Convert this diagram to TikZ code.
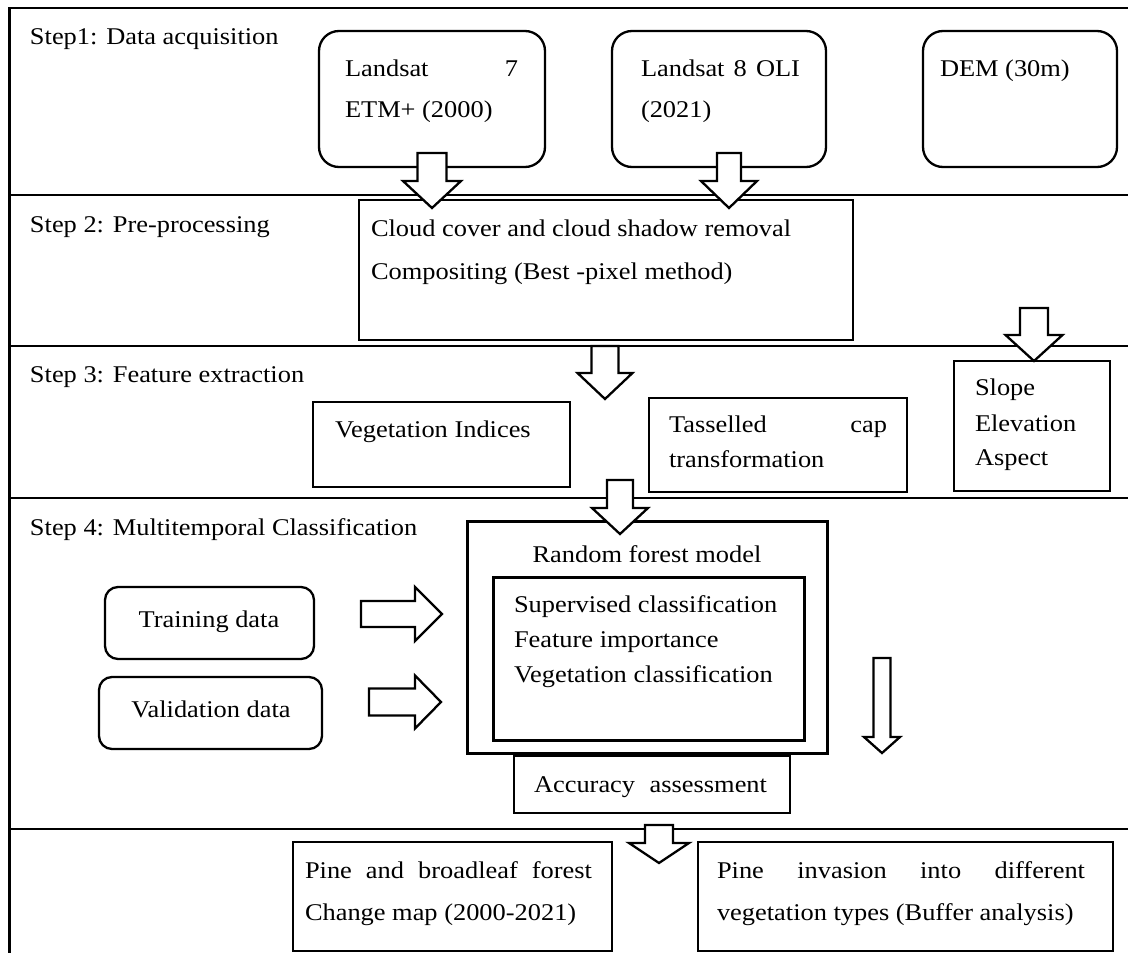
\documentclass[tikz,border=0pt]{standalone}
\usepackage{fontspec}
\setmainfont{Liberation Serif}[FakeStretch=1.1]
\newcommand\bDown[6]{% cx, top, headbase, tip, shaft width, head width
  \draw[barrow] ({#1-#5/2},#2) -- ({#1+#5/2},#2) -- ({#1+#5/2},#3) -- ({#1+#6/2},#3) -- (#1,#4) -- ({#1-#6/2},#3) -- ({#1-#5/2},#3) -- cycle;}
\newcommand\bRight[6]{% cy, left, headbase, tip, shaft height, head height
  \draw[barrow] (#2,{#1-#5/2}) -- (#3,{#1-#5/2}) -- (#3,{#1-#6/2}) -- (#4,#1) -- (#3,{#1+#6/2}) -- (#3,{#1+#5/2}) -- (#2,{#1+#5/2}) -- cycle;}
\begin{document}
\begin{tikzpicture}[x=1pt,y=-1pt,
  every node/.style={inner sep=0pt, outer sep=0pt},
  txt/.style={anchor=base west, font=\fontsize{24}{35}\selectfont},
  ctxt/.style={anchor=base, font=\fontsize{24}{35}\selectfont},
  rbox/.style={draw, line width=2.3pt, rounded corners=20pt},
  sbox/.style={draw, line width=2.3pt, rounded corners=13pt},
  tbox/.style={draw, line width=1.2pt},
  kbox/.style={draw, line width=3pt},
  sepline/.style={line width=2.7pt},
  barrow/.style={draw, fill=white, line width=2.3pt, line join=miter}]
\useasboundingbox (0,0) rectangle (1128,953);
% frame and section lines
\draw[sepline] (9.5,953) -- (9.5,8) -- (1128,8);
\draw[sepline] (9.5,195) -- (1128,195);
\draw[sepline] (9.5,346) -- (1128,346);
\draw[sepline] (9.5,498) -- (1128,498);
\draw[sepline] (9.5,829) -- (1128,829);
% step labels
\node[txt] (s1) at (30,45) {Step1: Data acquisition};
\node[txt] (s2) at (30,232) {Step 2: Pre-processing};
\node[txt] (s3) at (30,382) {Step 3: Feature extraction};
\node[txt] (s4) at (30,535) {Step 4: Multitemporal Classification};
% step 1
\node[rbox, minimum width=226pt, minimum height=136pt] (l7) at (432,99) {};
\node[rbox, minimum width=214pt, minimum height=136pt] (l8) at (719,99) {};
\node[rbox, minimum width=194pt, minimum height=136pt] (dem) at (1020,99) {};
\node[txt] (l7a) at (345,76) {\hbox to 173pt{Landsat\hfill 7}};
\node[txt] (l7b) at (345,117) {ETM+ (2000)};
\node[txt] (l8a) at (641,76) {\hbox to 159pt{Landsat\hfill 8\hfill OLI}};
\node[txt] (l8b) at (641,117) {(2021)};
\node[txt] (demt) at (940,76) {DEM (30m)};
% step 2
\node[tbox, minimum width=494pt, minimum height=140pt] (pre) at (606,270) {};
\node[txt] (pre1) at (371,236) {Cloud cover and cloud shadow removal};
\node[txt] (pre2) at (371,279) {Compositing (Best -pixel method)};
% step 3
\node[tbox, minimum width=257pt, minimum height=85pt] (veg) at (441.5,444.5) {};
\node[txt] (vegt) at (335,437) {Vegetation Indices};
\node[tbox, minimum width=258pt, minimum height=94pt] (tas) at (778,445) {};
\node[txt] (tas1) at (669,432) {\hbox to 218pt{Tasselled\hfill cap}};
\node[txt] (tas2) at (669,467) {transformation};
\node[tbox, minimum width=156pt, minimum height=130pt] (slope) at (1032,426) {};
\node[txt] (sl1) at (975,395) {Slope};
\node[txt] (sl2) at (975,431) {Elevation};
\node[txt] (sl3) at (975,465) {Aspect};
% step 4
\node[kbox, minimum width=360pt, minimum height=232pt] (rf) at (647,637) {};
\node[ctxt] (rft) at (647,562) {Random forest model};
\node[kbox, minimum width=311pt, minimum height=163pt] (inner) at (648.5,658.5) {};
\node[txt] (in1) at (514,612) {Supervised classification};
\node[txt] (in2) at (514,647) {Feature importance};
\node[txt] (in3) at (514,682) {Vegetation classification};
\node[sbox, minimum width=209pt, minimum height=72pt] (train) at (209.5,623) {};
\node[ctxt] (traint) at (209,627) {Training data};
\node[sbox, minimum width=223pt, minimum height=72pt] (valid) at (210.5,713) {};
\node[ctxt] (validt) at (211,717) {Validation data};
\node[tbox, minimum width=276pt, minimum height=57pt] (acc) at (652,784.5) {};
\node[txt] (acct) at (534,792) {\hbox to 233pt{Accuracy\hfill assessment}};
% step 5
\node[tbox, minimum width=319pt, minimum height=109pt] (pine1) at (452.5,896.5) {};
\node[txt] (p1a) at (305,878) {\hbox to 287pt{Pine\hfill and\hfill broadleaf\hfill forest}};
\node[txt] (p1b) at (305,920) {Change map (2000-2021)};
\node[tbox, minimum width=415pt, minimum height=109pt] (pine2) at (905.5,896.5) {};
\node[txt] (p2a) at (717,878) {\hbox to 368pt{Pine\hfill invasion\hfill into\hfill different}};
\node[txt] (p2b) at (717,920) {vegetation types (Buffer analysis)};
% block arrows
\bDown{432}{153}{181}{208}{29}{58}
\bDown{729}{153}{181}{208}{24}{56}
\bDown{605}{346}{373}{399}{27}{55}
\bDown{1034}{308}{335}{361}{28}{57}
\bDown{620}{480}{508}{534}{26}{56}
\bDown{882}{658}{737}{753}{17}{36}
\bDown{659}{825}{843}{863}{28}{60}
\bRight{614}{361}{415}{442}{26}{54}
\bRight{702}{369}{415}{441}{27}{53}
\end{tikzpicture}
\end{document}
